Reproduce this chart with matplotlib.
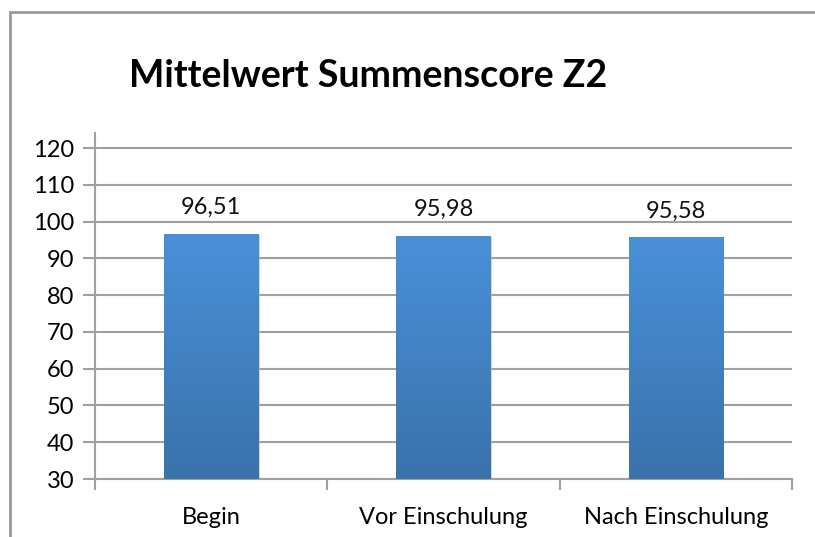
import numpy as np
import matplotlib.pyplot as plt
from matplotlib.patches import Rectangle
from matplotlib.colors import LinearSegmentedColormap

# Daten
kategorien = ["Begin", "Vor Einschulung", "Nach Einschulung"]
werte = [96.51, 95.98, 95.58]
beschriftungen = ["96,51", "95,98", "95,58"]
y_ticks = [30, 40, 50, 60, 70, 80, 90, 100, 110, 120]

plt.rcParams['font.family'] = ['Lato', 'DejaVu Sans']

fig = plt.figure(figsize=(8.15, 5.37), dpi=100)
ax = fig.add_axes([95 / 815, 1 - 479 / 537, 697 / 815, 346 / 537])

# Rahmen um das Diagramm
fig.patches.append(Rectangle((10 / 815, -0.1), 1.2, 1 - 12 / 537 + 0.1,
                             transform=fig.transFigure, fill=False,
                             edgecolor="#9a9a9a", linewidth=2))

x = np.arange(len(kategorien))
breite = 0.405
ymin = 30
cmap = LinearSegmentedColormap.from_list("blau", ["#3a72ab", "#4a90d9"])
grad = np.linspace(0, 1, 256).reshape(-1, 1)

for xi, w, txt in zip(x, werte, beschriftungen):
    # leichter Schatten
    ax.add_patch(Rectangle((xi - breite / 2 + 0.006, ymin), breite, w - ymin - 0.25,
                           facecolor="#b8b8b8", edgecolor="none", zorder=2, alpha=0.6))
    ax.imshow(grad, cmap=cmap, origin="lower", aspect="auto",
              extent=(xi - breite / 2, xi + breite / 2, ymin, w), zorder=3)
    ax.text(xi, w + 7.3, txt, ha="center", va="center", fontsize=17, color="#111111")

ax.set_xlim(-0.5, 2.5)
ax.set_ylim(30, 124.1)
ax.set_yticks(y_ticks)
ax.set_yticklabels([str(t) for t in y_ticks], fontsize=17)
ax.set_xticks(x)
ax.set_xticklabels(kategorien, fontsize=17)
ax.set_xticks([-0.5, 0.5, 1.5, 2.5], minor=True)
ax.tick_params(axis="x", which="major", length=0, pad=20)
ax.tick_params(axis="x", which="minor", length=8, width=1.5, color="#a0a0a0", direction="out")
ax.tick_params(axis="y", length=9, width=1.5, color="#a0a0a0", pad=6)

ax.grid(axis="y", color="#a0a0a0", linewidth=1.5, zorder=0)
ax.set_axisbelow(True)
for s in ["top", "right"]:
    ax.spines[s].set_visible(False)
for s in ["left", "bottom"]:
    ax.spines[s].set_color("#a0a0a0")
    ax.spines[s].set_linewidth(1.5)

fig.text(368 / 815, 1 - 76 / 537, "Mittelwert Summenscore Z2", ha="center", va="center",
         fontsize=27, fontweight="bold")

fig.savefig("out.png", dpi=100)
